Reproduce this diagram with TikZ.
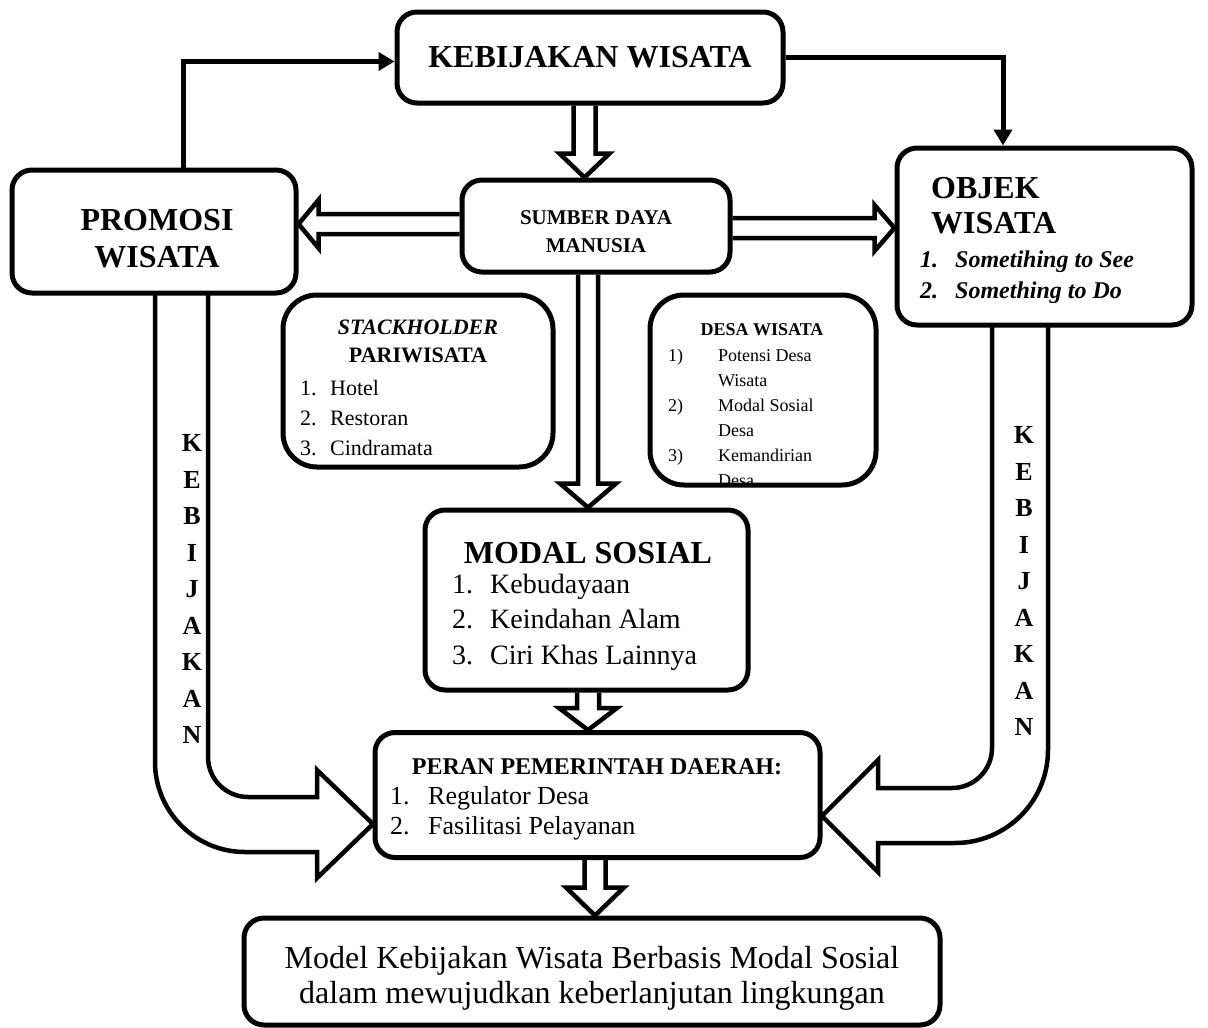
\documentclass[tikz,border=0pt]{standalone}
\usepackage{fontspec}
\setmainfont{Liberation Serif}
\usetikzlibrary{arrows.meta,calc}
\newcommand{\fsz}[2]{\fontsize{#1}{#2}\selectfont}
% hollow block arrow pointing down: start, end, shaft half, head half, head length
\newcommand{\varr}[5]{%
  \draw[hol] ($#1+(-#3,0)$) -- ($#2+(-#3,-#5)$) -- ($#2+(-#4,-#5)$) -- #2 -- ($#2+(#4,-#5)$) -- ($#2+(#3,-#5)$) -- ($#1+(#3,0)$);}
% hollow block arrow horizontal: start, end, shaft half, head half, head length, sign (1 = leftwards, -1 = rightwards)
\newcommand{\harr}[6]{%
  \draw[hol] ($#1+(0,-#3)$) -- ($#2+({#6*#5},-#3)$) -- ($#2+({#6*#5},-#4)$) -- #2 -- ($#2+({#6*#5},#4)$) -- ($#2+({#6*#5},#3)$) -- ($#1+(0,#3)$);}
\begin{document}
\begin{tikzpicture}[x=1pt,y=-1pt,
  box/.style={draw, line width=5pt, rounded corners=20pt, fill=white, inner sep=0pt},
  conn/.style={line width=5pt, -{Triangle[length=16pt,width=18pt]}},
  hol/.style={draw, line width=4.5pt, line join=miter},
  ub/.style={draw, line width=4.5pt, line join=miter},
  tl/.style={inner sep=0pt, anchor=base west},
  tc/.style={inner sep=0pt, anchor=base},
]
\fill[white] (0,0) rectangle (1208,1028);
\useasboundingbox (0,0) rectangle (1208,1028);

% ---- boxes
\node[box, minimum width=386pt, minimum height=91pt, font={\fsz{32}{38}\bfseries}] (kw) at (590,57.5) {KEBIJAKAN WISATA};
\node[box, minimum width=284pt, minimum height=123pt] (promo) at (154,231.5) {};
\node[box, minimum width=268pt, minimum height=92pt] (sdm) at (596,226) {};
\node[box, minimum width=295pt, minimum height=177pt] (objek) at (1044.5,236.5) {};
\node[box, rounded corners=34pt, minimum width=270pt, minimum height=172pt] (stack) at (418,381) {};
\node[box, rounded corners=34pt, minimum width=226pt, minimum height=190pt] (desa) at (763,390) {};
\node[box, minimum width=323pt, minimum height=180pt] (modal) at (586.5,600) {};
\node[box, minimum width=445pt, minimum height=125pt] (peran) at (597.5,795) {};
\node[box, minimum width=696pt, minimum height=107pt] (bot) at (592,971.5) {};

% ---- PROMOSI / SDM text
\node[tc, font={\fsz{32}{32}\bfseries}] (pr1) at (157,230) {PROMOSI};
\node[tc, font={\fsz{32}{32}\bfseries}] (pr2) at (157,267) {WISATA};
\node[tc, font={\fsz{21}{21}\bfseries}] (sd1) at (596,224) {SUMBER DAYA};
\node[tc, font={\fsz{21}{21}\bfseries}] (sd2) at (596,252) {MANUSIA};

% ---- OBJEK WISATA text
\node[tl, font={\fsz{32}{32}\bfseries}] (ob1) at (931,198) {OBJEK};
\node[tl, font={\fsz{32}{32}\bfseries}] (ob2) at (931,233) {WISATA};
\node[tl, font={\fsz{24}{24}\bfseries\itshape}] (ob3n) at (920,267) {1.};
\node[tl, font={\fsz{24}{24}\bfseries\itshape}] (ob3) at (955,267) {Sometihing to See};
\node[tl, font={\fsz{24}{24}\bfseries\itshape}] (ob4n) at (920,298) {2.};
\node[tl, font={\fsz{24}{24}\bfseries\itshape}] (ob4) at (955,298) {Something to Do};

% ---- STACKHOLDER text
\node[tc, font={\fsz{22}{22}\bfseries\itshape}] (st1) at (418,334) {STACKHOLDER};
\node[tc, font={\fsz{22}{22}\bfseries}] (st2) at (418,362) {PARIWISATA};
\node[tl, font={\fsz{22}{22}}] (st3n) at (300,395) {1.};
\node[tl, font={\fsz{22}{22}}] (st3) at (330,395) {Hotel};
\node[tl, font={\fsz{22}{22}}] (st4n) at (300,425) {2.};
\node[tl, font={\fsz{22}{22}}] (st4) at (330,425) {Restoran};
\node[tl, font={\fsz{22}{22}}] (st5n) at (300,455) {3.};
\node[tl, font={\fsz{22}{22}}] (st5) at (330,455) {Cindramata};

% ---- DESA WISATA text
\begin{scope}
\clip (640,290) rectangle (880,484);
\node[tc, font={\fsz{18}{18}\bfseries}] (de0) at (762,335) {DESA WISATA};
\node[tl, font={\fsz{18}{18}}] (de1n) at (668,361) {1)};
\node[tl, font={\fsz{18}{18}}] (de1) at (718,361) {Potensi Desa};
\node[tl, font={\fsz{18}{18}}] (de1b) at (718,386) {Wisata};
\node[tl, font={\fsz{18}{18}}] (de2n) at (668,411) {2)};
\node[tl, font={\fsz{18}{18}}] (de2) at (718,411) {Modal Sosial};
\node[tl, font={\fsz{18}{18}}] (de2b) at (718,436) {Desa};
\node[tl, font={\fsz{18}{18}}] (de3n) at (668,461) {3)};
\node[tl, font={\fsz{18}{18}}] (de3) at (718,461) {Kemandirian};
\node[tl, font={\fsz{18}{18}}] (de3b) at (718,486) {Desa};
\end{scope}

% ---- MODAL SOSIAL text
\node[tc, font={\fsz{32}{32}\bfseries}] (mo0) at (588,563) {MODAL SOSIAL};
\node[tl, font={\fsz{28}{28}}] (mo1n) at (452,593) {1.};
\node[tl, font={\fsz{28}{28}}] (mo1) at (490,593) {Kebudayaan};
\node[tl, font={\fsz{28}{28}}] (mo2n) at (452,628) {2.};
\node[tl, font={\fsz{28}{28}}] (mo2) at (490,628) {Keindahan Alam};
\node[tl, font={\fsz{28}{28}}] (mo3n) at (452,664) {3.};
\node[tl, font={\fsz{28}{28}}] (mo3) at (490,664) {Ciri Khas Lainnya};

% ---- PERAN text
\node[tc, font={\fsz{24}{24}\bfseries}] (pe0) at (597,774) {PERAN PEMERINTAH DAERAH:};
\node[tl, font={\fsz{26}{26}}] (pe1n) at (390,804) {1.};
\node[tl, font={\fsz{26}{26}}] (pe1) at (428,804) {Regulator Desa};
\node[tl, font={\fsz{26}{26}}] (pe2n) at (390,834) {2.};
\node[tl, font={\fsz{26}{26}}] (pe2) at (428,834) {Fasilitasi Pelayanan};

% ---- bottom text
\begin{scope}
\clip (250,925) rectangle (935,1009);
\node[tc, font={\fsz{32}{32}}] (bo1) at (592,968) {Model Kebijakan Wisata Berbasis Modal Sosial};
\node[tc, font={\fsz{32}{32}}] (bo2) at (592,1003) {dalam mewujudkan keberlanjutan lingkungan};
\end{scope}

% ---- thin connectors
\coordinate (t1) at (183,0);
\coordinate (t2) at (1003,0);
\draw[conn] (promo.north -| t1) |- ($(kw.west)+(0,4)$);
\draw[conn] (kw.east) -| (t2 |- objek.north);

% ---- hollow arrows
\coordinate (a1) at (584.5,0);
\coordinate (a4) at (588,0);
\coordinate (a5) at (588,0);
\coordinate (a6) at (595,0);
\coordinate (h1) at (0,224);
\coordinate (h2) at (0,228);
\varr{(kw.south -| a1)}{(sdm.north -| a1)}{11}{25}{24}
\varr{(sdm.south -| a4)}{(modal.north -| a4)}{10}{28}{24}
\varr{(modal.south -| a5)}{(peran.north -| a5)}{11}{29}{22}
\varr{(peran.south -| a6)}{(bot.north -| a6)}{10.5}{29}{28}
\harr{(sdm.west |- h1)}{(promo.east |- h1)}{10}{24}{20}{1}
\harr{(sdm.east |- h2)}{(objek.west |- h2)}{10}{23}{20}{-1}

% ---- left U arrow (KEBIJAKAN)
\draw[ub] (155,293) -- (155,762) .. controls (155,811.7) and (195.3,852) .. (245,852)
  -- (317,852) -- (317,878) -- (373,824) -- (317,770) -- (317,797) -- (248,797)
  .. controls (225.9,797) and (208,779.1) .. (208,757) -- (208,293);
% ---- right U arrow (KEBIJAKAN)
\draw[ub] (1048,325) -- (1048,750) .. controls (1048,801.3) and (1006.3,843) .. (955,843)
  -- (878,843) -- (878,872) -- (822,816) -- (878,760) -- (878,788) -- (952,788)
  .. controls (974.1,788) and (992,770.1) .. (992,748) -- (992,325);

\node[align=center, inner sep=0pt, font={\fsz{26}{36.5}\bfseries}] (kebL) at (192,589) {K\\E\\B\\I\\J\\A\\K\\A\\N};
\node[align=center, inner sep=0pt, font={\fsz{26}{36.5}\bfseries}] (kebR) at (1024,581) {K\\E\\B\\I\\J\\A\\K\\A\\N};
\end{tikzpicture}
\end{document}
